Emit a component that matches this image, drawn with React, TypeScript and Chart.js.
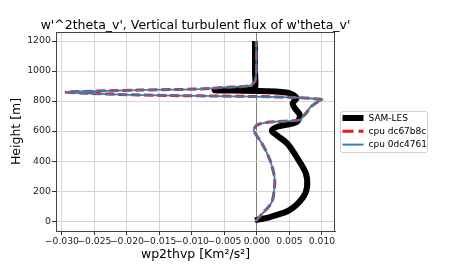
import React, { useEffect, useRef } from "react";
import { Chart, registerables } from "chart.js";
Chart.register(...registerables);

const TITLE = "w'^2theta_v', Vertical turbulent flux of w'theta_v'";
const X_LABEL = "wp2thvp [Km²/s²]";
const Y_LABEL = "Height [m]";
const SERIES_NAMES = ["SAM-LES", "cpu dc67b8c", "cpu 0dc4761"];
const X_TICKS = [-0.03, -0.025, -0.02, -0.015, -0.01, -0.005, 0, 0.005, 0.01];
const Y_TICKS = [0, 200, 400, 600, 800, 1000, 1200];

// SAM-LES profile
const samHeight = [5, 27, 73, 153, 227, 320, 427, 520, 593, 607, 627, 660, 707, 753, 787, 820, 853, 866, 872, 877, 885, 1000, 1200];
const samValue = [-0.0003, 0.002, 0.005, 0.007, 0.0077, 0.0075, 0.0061, 0.0046, 0.0024, 0.0023, 0.003, 0.0061, 0.0066, 0.0058, 0.0055, 0.0061, 0.005, 0.0015, -0.0065, -0.001, -0.0003, -0.0003, -0.0003];

// cpu dc67b8c profile
const dcHeight = [0, 53, 107, 140, 227, 293, 407, 507, 587, 607, 640, 660, 673, 693, 727, 753, 773, 795, 807, 813, 822, 830, 840, 858, 862, 873, 880, 889, 902, 929, 953, 1000, 1200];
const dcValue = [-0.0002, 0.0009, 0.002, 0.0024, 0.0027, 0.0027, 0.002, 0.0009, -0.0003, -0.0005, 0.0, 0.002, 0.0066, 0.007, 0.0077, 0.0081, 0.0086, 0.0094, 0.01, 0.0094, 0.0066, 0.0, -0.018, -0.0293, -0.0284, -0.018, -0.0088, -0.0057, -0.0011, -0.0003, -0.0002, -0.0001, -0.0001];

// cpu 0dc4761 profile
const cpuHeight = [0, 53, 107, 140, 227, 293, 407, 507, 587, 607, 640, 660, 673, 693, 727, 753, 773, 795, 807, 813, 822, 830, 840, 858, 862, 873, 880, 889, 902, 929, 953, 1000, 1200];
const cpuValue = [-0.0002, 0.0009, 0.002, 0.0024, 0.0027, 0.0027, 0.002, 0.0009, -0.0003, -0.0005, 0.0, 0.002, 0.0066, 0.007, 0.0077, 0.0081, 0.0086, 0.0094, 0.01, 0.0094, 0.0066, 0.0, -0.018, -0.0293, -0.0284, -0.018, -0.0088, -0.0057, -0.0011, -0.0003, -0.0002, -0.0001, -0.0001];

const COLORS = ["#000000", "#e41a1c", "#377eb8"];
const FONT = '"DejaVu Sans", sans-serif';

const pts = (xs: number[], ys: number[]) => xs.map((x, i) => ({ x, y: ys[i] }));
const fmtX = (v: number) => (Math.abs(v) < 1e-12 ? "0.000" : v.toFixed(3).replace("-", "\u2212"));

const decor = {
  id: "decor",
  afterDatasetsDraw(chart: any) {
    const { ctx, chartArea: a } = chart;
    ctx.save();
    // frame
    ctx.strokeStyle = "#444";
    ctx.lineWidth = 1;
    ctx.strokeRect(Math.round(a.left) + 0.5, Math.round(a.top) + 0.5, Math.round(a.right - a.left) - 1, Math.round(a.bottom - a.top));
    // title
    const cx = (a.left + a.right) / 2;
    const cy = (a.top + a.bottom) / 2;
    ctx.fillStyle = "#000";
    ctx.textAlign = "center";
    ctx.textBaseline = "alphabetic";
    ctx.font = `12.5px ${FONT}`;
    ctx.fillText(TITLE, cx, a.top - 3);
    // x label
    ctx.fillText(X_LABEL, cx, a.bottom + 27);
    // y label
    ctx.save();
    ctx.translate(20, cy);
    ctx.rotate(-Math.PI / 2);
    ctx.fillText(Y_LABEL, 0, 0);
    ctx.restore();
    // legend
    const lx = a.right + 5.5;
    const ly = Math.round(cy - 21) + 0.5;
    const lw = 87;
    const lh = 41;
    const r = 2;
    ctx.beginPath();
    ctx.moveTo(lx + r, ly);
    ctx.lineTo(lx + lw - r, ly);
    ctx.quadraticCurveTo(lx + lw, ly, lx + lw, ly + r);
    ctx.lineTo(lx + lw, ly + lh - r);
    ctx.quadraticCurveTo(lx + lw, ly + lh, lx + lw - r, ly + lh);
    ctx.lineTo(lx + r, ly + lh);
    ctx.quadraticCurveTo(lx, ly + lh, lx, ly + lh - r);
    ctx.lineTo(lx, ly + r);
    ctx.quadraticCurveTo(lx, ly, lx + r, ly);
    ctx.closePath();
    ctx.fillStyle = "rgba(255,255,255,0.8)";
    ctx.fill();
    ctx.strokeStyle = "#d0d0d0";
    ctx.stroke();
    const widths = [6, 3, 2];
    const dashes = [[], [11, 5], []];
    ctx.font = `9px ${FONT}`;
    ctx.textAlign = "left";
    ctx.textBaseline = "middle";
    SERIES_NAMES.forEach((name, i) => {
      const y = ly + 6.5 + i * 13.3;
      ctx.beginPath();
      ctx.setLineDash(dashes[i]);
      ctx.lineWidth = widths[i];
      ctx.strokeStyle = COLORS[i];
      ctx.moveTo(lx + 2, y);
      ctx.lineTo(lx + 23, y);
      ctx.stroke();
      ctx.setLineDash([]);
      ctx.fillStyle = "#000";
      ctx.fillText(name, lx + 28, y + 0.5);
    });
    ctx.restore();
  },
};

export default function App() {
  const ref = useRef<HTMLCanvasElement | null>(null);
  useEffect(() => {
    if (!ref.current) return;
    const chart = new Chart(ref.current, {
      type: "scatter",
      data: {
        datasets: [
          {
            label: SERIES_NAMES[0],
            data: pts(samValue, samHeight),
            showLine: true,
            borderColor: COLORS[0],
            backgroundColor: COLORS[0],
            borderWidth: 6,
            pointRadius: 0,
            tension: 0.3,
            order: 3,
          },
          {
            label: SERIES_NAMES[1],
            data: pts(dcValue, dcHeight),
            showLine: true,
            borderColor: COLORS[1],
            backgroundColor: COLORS[1],
            borderWidth: 3,
            borderDash: [9, 4],
            pointRadius: 0,
            tension: 0.3,
            order: 2,
          },
          {
            label: SERIES_NAMES[2],
            data: pts(cpuValue, cpuHeight),
            showLine: true,
            borderColor: COLORS[2],
            backgroundColor: COLORS[2],
            borderWidth: 1.8,
            pointRadius: 0,
            tension: 0.3,
            order: 1,
          },
        ],
      },
      options: {
        responsive: false,
        animation: false,
        layout: { padding: { top: 32, right: 115, left: 0, bottom: 0 } },
        plugins: { legend: { display: false }, tooltip: { enabled: false }, title: { display: false } },
        scales: {
          x: {
            type: "linear",
            min: -0.0309,
            max: 0.012,
            afterBuildTicks: (s: any) => {
              s.ticks = X_TICKS.map((v) => ({ value: v }));
            },
            afterFit: (s: any) => {
              s.height = 39;
            },
            ticks: {
              autoSkip: false,
              maxRotation: 0,
              padding: 1,
              color: "#222",
              font: { family: FONT, size: 9.2 },
              callback: (v: any) => fmtX(Number(v)),
            },
            grid: {
              color: (c: any) => (c.tick && Math.abs(c.tick.value) < 1e-12 ? "#808080" : "#d3d3d3"),
              tickColor: "#333",
              tickLength: 4,
            },
            border: { display: true, color: "#444" },
          },
          y: {
            type: "linear",
            min: -66,
            max: 1260,
            afterBuildTicks: (s: any) => {
              s.ticks = Y_TICKS.map((v) => ({ value: v }));
            },
            afterFit: (s: any) => {
              s.width = 56;
            },
            ticks: {
              autoSkip: false,
              padding: 1,
              color: "#222",
              font: { family: FONT, size: 9.4 },
              callback: (v: any) => String(v),
            },
            grid: { color: "#d3d3d3", tickColor: "#333", tickLength: 4 },
            border: { display: true, color: "#444" },
          },
        },
      },
      plugins: [decor],
    });
    return () => chart.destroy();
  }, []);
  return (
    <div style={{ position: "absolute", left: 0, top: 0, width: 450, height: 270 }}>
      <canvas ref={ref} width={450} height={270} style={{ display: "block" }} />
    </div>
  );
}
